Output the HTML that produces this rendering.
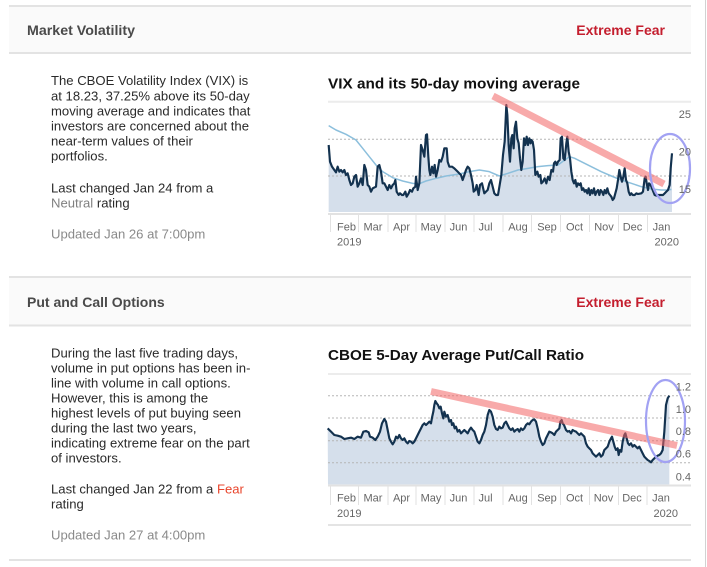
<!DOCTYPE html>
<html><head><meta charset="utf-8">
<style>
html,body{margin:0;padding:0;background:#fff;}
body{width:707px;height:567px;overflow:hidden;position:relative;font-family:"Liberation Sans",Arial,sans-serif;}
svg{position:absolute;left:0;top:0;}
</style></head>
<body>
<svg width="707" height="567" viewBox="0 0 707 567" xmlns="http://www.w3.org/2000/svg" font-family="Liberation Sans, Arial, sans-serif">
  <!-- right vertical border -->
  <line x1="705.5" y1="0" x2="705.5" y2="567" stroke="#d2d2d2" stroke-width="1"/>

  <!-- Section 1 header -->
  <rect x="9" y="6" width="682" height="47" fill="#fafafa"/>
  <line x1="9" y1="6" x2="691" y2="6" stroke="#e3e3e3" stroke-width="2"/>
  <line x1="9" y1="53" x2="691" y2="53" stroke="#e3e3e3" stroke-width="2"/>
  <text x="27" y="35" font-size="14" font-weight="bold" fill="#4a4a4a" textLength="108" lengthAdjust="spacingAndGlyphs">Market Volatility</text>
  <text x="665" y="35" font-size="14" font-weight="bold" fill="#c41e2e" text-anchor="end">Extreme Fear</text>

  <!-- Section 1 text -->
  <g font-size="13.1" fill="#2a2a2a">
    <text x="51" y="85">The CBOE Volatility Index (VIX) is</text>
    <text x="51" y="100.5">at 18.23, 37.25% above its 50-day</text>
    <text x="51" y="115.5">moving average and indicates that</text>
    <text x="51" y="130.5">investors are concerned about the</text>
    <text x="51" y="145.5">near-term values of their</text>
    <text x="51" y="160.5">portfolios.</text>
    <text x="51" y="192.5">Last changed Jan 24 from a</text>
    <text x="51" y="207.5"><tspan fill="#808080">Neutral</tspan> rating</text>
    <text x="51" y="238.5" fill="#8a8a8a">Updated Jan 26 at 7:00pm</text>
  </g>

  <!-- Chart 1 -->
  <text x="328" y="88.3" font-size="14.5" font-weight="bold" fill="#111" textLength="252" lengthAdjust="spacingAndGlyphs">VIX and its 50-day moving average</text>
  <line x1="328" y1="101.7" x2="691" y2="101.7" stroke="#ececec" stroke-width="2"/>
  <g transform="translate(326,95) scale(0.333333)">
    <polygon fill="#d5dfeb" points="8,351 8,150 12,200 18,215 25,225 30,232 35,215 40,230 45,225 50,232 55,225 60,240 65,235 70,255 75,270 80,265 85,245 90,240 95,275 100,265 105,250 110,270 115,210 120,225 125,270 130,275 135,290 140,280 150,275 155,215 160,210 165,230 170,265 175,265 180,275 185,285 190,270 195,280 200,270 205,265 208,255 212,290 218,300 222,295 228,300 232,300 238,290 242,305 248,295 252,285 258,290 262,280 268,275 270,245 275,285 280,265 285,150 290,165 295,185 300,120 303,118 307,185 310,225 313,240 318,215 322,235 326,210 330,245 335,225 340,195 345,200 350,185 355,160 362,160 365,200 370,215 378,215 385,220 390,225 395,230 400,235 405,240 410,255 415,240 420,225 425,215 430,220 435,240 440,265 443,290 448,285 452,270 458,300 462,270 468,265 475,295 480,290 485,285 490,265 495,255 500,275 505,295 510,300 516,300 521,270 526,240 531,180 536,140 541,30 544,60 548,150 552,200 556,130 559,120 563,160 566,100 570,80 574,130 578,145 582,190 586,225 590,200 594,130 598,150 602,125 606,150 610,130 614,145 616,135 620,140 624,165 628,240 634,230 638,245 643,240 646,265 651,260 656,250 661,265 666,245 671,255 676,225 681,230 684,205 688,200 692,210 696,200 701,195 704,130 708,125 712,190 716,195 721,145 724,125 728,170 732,190 736,230 740,255 744,265 748,255 752,275 756,265 760,270 764,265 768,285 772,280 776,290 780,285 784,295 788,280 792,300 796,285 800,295 804,280 808,300 812,290 816,285 820,300 824,285 828,290 832,300 836,285 840,295 844,280 848,295 852,300 856,305 860,315 864,310 868,295 872,280 876,255 880,225 884,245 888,260 892,245 896,220 900,255 904,265 908,290 912,300 916,295 920,300 926,300 931,295 936,297 941,296 946,295 951,290 956,250 959,245 963,270 966,285 969,265 974,270 978,280 982,290 986,300 991,302 996,300 1001,300 1006,300 1011,300 1016,295 1021,290 1026,285 1031,270 1034,220 1038,175 1038,351"/>
  </g>
  <line x1="328" y1="139.3" x2="691" y2="139.3" stroke="#b5b5b5" stroke-width="1" stroke-dasharray="2,2"/>
  <line x1="328" y1="176" x2="691" y2="176" stroke="#b5b5b5" stroke-width="1" stroke-dasharray="2,2"/>
  <g transform="translate(326,95) scale(0.333333)" fill="none" stroke-linejoin="round">
    <polyline stroke="#8cbfdc" stroke-width="4.5" points="8,92 30,105 60,118 90,135 110,160 130,185 150,210 170,230 200,248 230,258 260,265 280,266 300,258 330,250 360,243 400,237 430,230 460,225 490,230 520,243 546,235 576,225 606,220 636,215 666,212 696,210 716,195 731,185 746,190 766,200 796,215 826,230 856,243 886,255 916,265 946,275 976,282 1006,285 1026,285 1036,283"/>
    <polyline stroke="#13324f" stroke-width="6.5" points="8,150 12,200 18,215 25,225 30,232 35,215 40,230 45,225 50,232 55,225 60,240 65,235 70,255 75,270 80,265 85,245 90,240 95,275 100,265 105,250 110,270 115,210 120,225 125,270 130,275 135,290 140,280 150,275 155,215 160,210 165,230 170,265 175,265 180,275 185,285 190,270 195,280 200,270 205,265 208,255 212,290 218,300 222,295 228,300 232,300 238,290 242,305 248,295 252,285 258,290 262,280 268,275 270,245 275,285 280,265 285,150 290,165 295,185 300,120 303,118 307,185 310,225 313,240 318,215 322,235 326,210 330,245 335,225 340,195 345,200 350,185 355,160 362,160 365,200 370,215 378,215 385,220 390,225 395,230 400,235 405,240 410,255 415,240 420,225 425,215 430,220 435,240 440,265 443,290 448,285 452,270 458,300 462,270 468,265 475,295 480,290 485,285 490,265 495,255 500,275 505,295 510,300 516,300 521,270 526,240 531,180 536,140 541,30 544,60 548,150 552,200 556,130 559,120 563,160 566,100 570,80 574,130 578,145 582,190 586,225 590,200 594,130 598,150 602,125 606,150 610,130 614,145 616,135 620,140 624,165 628,240 634,230 638,245 643,240 646,265 651,260 656,250 661,265 666,245 671,255 676,225 681,230 684,205 688,200 692,210 696,200 701,195 704,130 708,125 712,190 716,195 721,145 724,125 728,170 732,190 736,230 740,255 744,265 748,255 752,275 756,265 760,270 764,265 768,285 772,280 776,290 780,285 784,295 788,280 792,300 796,285 800,295 804,280 808,300 812,290 816,285 820,300 824,285 828,290 832,300 836,285 840,295 844,280 848,295 852,300 856,305 860,315 864,310 868,295 872,280 876,255 880,225 884,245 888,260 892,245 896,220 900,255 904,265 908,290 912,300 916,295 920,300 926,300 931,295 936,297 941,296 946,295 951,290 956,250 959,245 963,270 966,285 969,265 974,270 978,280 982,290 986,300 991,302 996,300 1001,300 1006,300 1011,300 1016,295 1021,290 1026,285 1031,270 1034,220 1038,175"/>
  </g>
  <line x1="493" y1="96" x2="664" y2="184" stroke="rgba(243,100,100,0.55)" stroke-width="7"/>
  <ellipse cx="670" cy="168.5" rx="20" ry="34.5" fill="none" stroke="#a2a2f3" stroke-width="2.2"/>
  <line x1="328" y1="214" x2="691" y2="214" stroke="#e2e2e2" stroke-width="2"/>
  <g font-size="11" fill="#666">
    <text x="691" y="118" text-anchor="end">25</text>
    <text x="691" y="155.5" text-anchor="end">20</text>
    <text x="691" y="193" text-anchor="end">15</text>
  </g>
  <g stroke="#e2e2e2" stroke-width="1">
    <line x1="330.5" y1="215" x2="330.5" y2="232"/><line x1="358.5" y1="215" x2="358.5" y2="232"/>
    <line x1="388" y1="215" x2="388" y2="232"/><line x1="416" y1="215" x2="416" y2="232"/>
    <line x1="445" y1="215" x2="445" y2="232"/><line x1="474" y1="215" x2="474" y2="232"/>
    <line x1="503" y1="215" x2="503" y2="232"/><line x1="531.5" y1="215" x2="531.5" y2="232"/>
    <line x1="560.5" y1="215" x2="560.5" y2="232"/><line x1="589.5" y1="215" x2="589.5" y2="232"/>
    <line x1="618.5" y1="215" x2="618.5" y2="232"/><line x1="647.5" y1="215" x2="647.5" y2="232"/>
  </g>
  <g font-size="11" fill="#666" text-anchor="middle">
    <text x="346.5" y="230.5">Feb</text><text x="373" y="230.5">Mar</text><text x="401.5" y="230.5">Apr</text>
    <text x="431" y="230.5">May</text><text x="458.5" y="230.5">Jun</text><text x="485.5" y="230.5">Jul</text>
    <text x="518" y="230.5">Aug</text><text x="547" y="230.5">Sep</text><text x="574.5" y="230.5">Oct</text>
    <text x="604" y="230.5">Nov</text><text x="632.5" y="230.5">Dec</text><text x="661.5" y="230.5">Jan</text>
  </g>
  <text x="337" y="245.5" font-size="11" fill="#666">2019</text>
  <text x="679" y="245.5" font-size="11" fill="#666" text-anchor="end">2020</text>

  <!-- Section 2 header -->
  <rect x="9" y="277" width="682" height="48" fill="#fafafa"/>
  <line x1="9" y1="277" x2="691" y2="277" stroke="#e3e3e3" stroke-width="2"/>
  <line x1="9" y1="325.5" x2="691" y2="325.5" stroke="#e3e3e3" stroke-width="2"/>
  <text x="27" y="307" font-size="14" font-weight="bold" fill="#4a4a4a">Put and Call Options</text>
  <text x="665" y="307" font-size="14" font-weight="bold" fill="#c41e2e" text-anchor="end">Extreme Fear</text>

  <!-- Section 2 text -->
  <g font-size="13.1" fill="#2a2a2a">
    <text x="51" y="357.5">During the last five trading days,</text>
    <text x="51" y="372.5">volume in put options has been in-</text>
    <text x="51" y="387.5">line with volume in call options.</text>
    <text x="51" y="402.5">However, this is among the</text>
    <text x="51" y="417.5">highest levels of put buying seen</text>
    <text x="51" y="432.5">during the last two years,</text>
    <text x="51" y="447.5">indicating extreme fear on the part</text>
    <text x="51" y="462.5">of investors.</text>
    <text x="51" y="493.5">Last changed Jan 22 from a <tspan fill="#e8452c">Fear</tspan></text>
    <text x="51" y="508.5">rating</text>
    <text x="51" y="539.5" fill="#8a8a8a">Updated Jan 27 at 4:00pm</text>
  </g>

  <!-- Chart 2 -->
  <text x="328" y="360" font-size="14.5" font-weight="bold" fill="#111" textLength="256" lengthAdjust="spacingAndGlyphs">CBOE 5-Day Average Put/Call Ratio</text>
  <line x1="328" y1="374" x2="691" y2="374" stroke="#ececec" stroke-width="2"/>
  <g transform="translate(326,375) scale(0.333333)">
    <polygon fill="#d5dfeb" points="6,328 5,160 15,170 25,180 35,182 45,185 55,192 65,190 75,188 85,192 95,185 105,188 112,170 120,168 128,172 132,185 140,188 148,195 155,185 162,170 168,145 175,132 180,140 185,165 190,190 195,200 200,208 205,200 210,185 215,190 220,180 225,190 230,195 235,190 240,200 245,205 250,198 255,200 260,205 265,200 270,190 275,180 280,170 285,160 290,150 295,145 300,150 305,145 310,140 315,145 318,128 322,110 325,90 328,78 332,85 336,90 340,100 344,95 348,115 352,130 355,110 360,125 365,120 370,140 375,135 378,150 382,145 386,160 390,155 395,170 400,165 405,175 410,170 415,165 420,170 425,175 430,165 435,158 440,165 445,170 450,185 455,200 460,205 465,195 470,180 475,170 480,150 485,120 490,105 495,110 500,125 505,150 510,162 515,165 520,155 525,160 530,158 535,145 540,140 545,150 550,160 555,165 560,160 565,170 570,165 575,162 580,170 585,160 590,165 595,160 600,150 605,145 610,148 615,140 620,135 625,133 630,140 635,160 640,185 645,200 650,210 655,205 660,190 665,180 670,170 675,172 680,175 685,180 690,170 695,165 700,160 703,140 707,135 710,145 714,150 720,165 725,170 730,168 735,175 740,165 745,168 750,170 755,175 760,180 765,175 770,180 775,185 780,205 785,215 790,220 795,225 800,235 805,240 810,245 815,240 820,235 825,245 830,240 835,225 840,220 845,215 850,200 855,190 858,185 862,200 866,215 870,225 875,220 878,240 882,225 886,230 890,200 895,180 898,175 902,190 906,205 910,210 915,205 920,215 925,210 930,215 935,220 940,215 945,225 950,235 955,245 960,250 965,255 970,258 975,262 980,255 985,250 990,245 995,242 1000,240 1005,235 1010,225 1015,170 1020,90 1025,70 1030,62 1030,328"/>
  </g>
  <g stroke="#b5b5b5" stroke-width="1" stroke-dasharray="2,2">
    <line x1="328" y1="395.7" x2="691" y2="395.7"/>
    <line x1="328" y1="418" x2="691" y2="418"/>
    <line x1="328" y1="440.7" x2="691" y2="440.7"/>
    <line x1="328" y1="462.7" x2="691" y2="462.7"/>
  </g>
  <g transform="translate(326,375) scale(0.333333)" fill="none" stroke-linejoin="round">
    <polyline stroke="#13324f" stroke-width="6.5" points="5,160 15,170 25,180 35,182 45,185 55,192 65,190 75,188 85,192 95,185 105,188 112,170 120,168 128,172 132,185 140,188 148,195 155,185 162,170 168,145 175,132 180,140 185,165 190,190 195,200 200,208 205,200 210,185 215,190 220,180 225,190 230,195 235,190 240,200 245,205 250,198 255,200 260,205 265,200 270,190 275,180 280,170 285,160 290,150 295,145 300,150 305,145 310,140 315,145 318,128 322,110 325,90 328,78 332,85 336,90 340,100 344,95 348,115 352,130 355,110 360,125 365,120 370,140 375,135 378,150 382,145 386,160 390,155 395,170 400,165 405,175 410,170 415,165 420,170 425,175 430,165 435,158 440,165 445,170 450,185 455,200 460,205 465,195 470,180 475,170 480,150 485,120 490,105 495,110 500,125 505,150 510,162 515,165 520,155 525,160 530,158 535,145 540,140 545,150 550,160 555,165 560,160 565,170 570,165 575,162 580,170 585,160 590,165 595,160 600,150 605,145 610,148 615,140 620,135 625,133 630,140 635,160 640,185 645,200 650,210 655,205 660,190 665,180 670,170 675,172 680,175 685,180 690,170 695,165 700,160 703,140 707,135 710,145 714,150 720,165 725,170 730,168 735,175 740,165 745,168 750,170 755,175 760,180 765,175 770,180 775,185 780,205 785,215 790,220 795,225 800,235 805,240 810,245 815,240 820,235 825,245 830,240 835,225 840,220 845,215 850,200 855,190 858,185 862,200 866,215 870,225 875,220 878,240 882,225 886,230 890,200 895,180 898,175 902,190 906,205 910,210 915,205 920,215 925,210 930,215 935,220 940,215 945,225 950,235 955,245 960,250 965,255 970,258 975,262 980,255 985,250 990,245 995,242 1000,240 1005,235 1010,225 1015,170 1020,90 1025,70 1030,62"/>
  </g>
  <line x1="431" y1="391.5" x2="677" y2="445.5" stroke="rgba(243,100,100,0.55)" stroke-width="7"/>
  <ellipse cx="665.5" cy="421" rx="19.5" ry="41" fill="none" stroke="#a2a2f3" stroke-width="2.2"/>
  <line x1="328" y1="485.5" x2="691" y2="485.5" stroke="#e2e2e2" stroke-width="2"/>
  <g font-size="11" fill="#666">
    <text x="691" y="390.5" text-anchor="end">1.2</text>
    <text x="691" y="413" text-anchor="end">1.0</text>
    <text x="691" y="435" text-anchor="end">0.8</text>
    <text x="691" y="457.5" text-anchor="end">0.6</text>
    <text x="691" y="480.5" text-anchor="end">0.4</text>
  </g>
  <g stroke="#e2e2e2" stroke-width="1">
    <line x1="330.5" y1="486" x2="330.5" y2="505"/><line x1="358.5" y1="486" x2="358.5" y2="505"/>
    <line x1="388" y1="486" x2="388" y2="505"/><line x1="416" y1="486" x2="416" y2="505"/>
    <line x1="445" y1="486" x2="445" y2="505"/><line x1="474" y1="486" x2="474" y2="505"/>
    <line x1="503" y1="486" x2="503" y2="505"/><line x1="531.5" y1="486" x2="531.5" y2="505"/>
    <line x1="560.5" y1="486" x2="560.5" y2="505"/><line x1="589.5" y1="486" x2="589.5" y2="505"/>
    <line x1="618.5" y1="486" x2="618.5" y2="505"/><line x1="647" y1="486" x2="647" y2="505"/>
  </g>
  <g font-size="11" fill="#666" text-anchor="middle">
    <text x="346.5" y="501.5">Feb</text><text x="373" y="501.5">Mar</text><text x="401.5" y="501.5">Apr</text>
    <text x="431" y="501.5">May</text><text x="458.5" y="501.5">Jun</text><text x="485.5" y="501.5">Jul</text>
    <text x="518" y="501.5">Aug</text><text x="547" y="501.5">Sep</text><text x="574.5" y="501.5">Oct</text>
    <text x="603.5" y="501.5">Nov</text><text x="632" y="501.5">Dec</text><text x="661" y="501.5">Jan</text>
  </g>
  <text x="337" y="517" font-size="11" fill="#666">2019</text>
  <text x="678" y="517" font-size="11" fill="#666" text-anchor="end">2020</text>
  <line x1="328" y1="525" x2="691" y2="525" stroke="#dcdcdc" stroke-width="1.5"/>

  <!-- bottom separator -->
  <line x1="9" y1="560" x2="691" y2="560" stroke="#e3e3e3" stroke-width="2"/>
</svg>
</body></html>
